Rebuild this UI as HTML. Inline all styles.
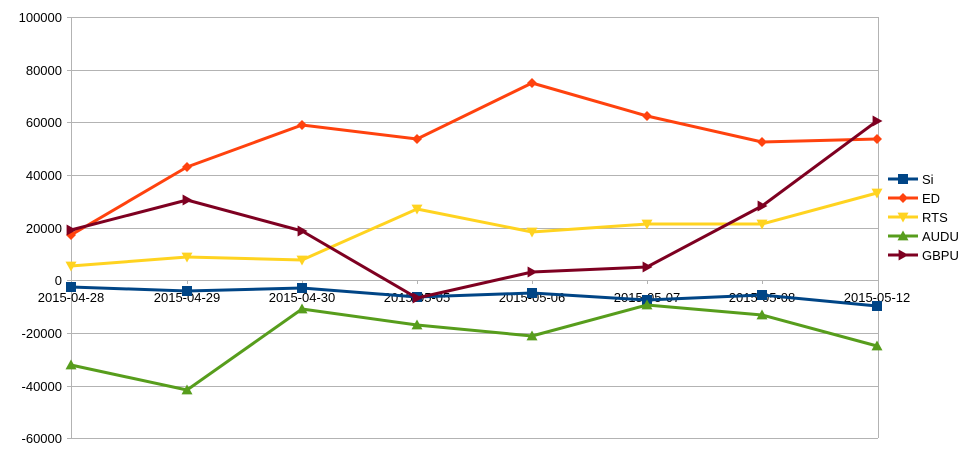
<!DOCTYPE html>
<html><head><style>body{margin:0;background:#fff}svg{display:block}text{font-family:"Liberation Sans",sans-serif;font-size:13px;fill:#000}</style></head><body>
<svg width="968" height="456" xmlns="http://www.w3.org/2000/svg">
<defs>
<marker id="sq" viewBox="0 0 10 10" refX="5" refY="5" markerWidth="10" markerHeight="10" markerUnits="userSpaceOnUse"><rect width="10" height="10" fill="#004586"/></marker>
<marker id="di" viewBox="0 0 10 10" refX="5" refY="5" markerWidth="10" markerHeight="10" markerUnits="userSpaceOnUse"><path d="M5 0L10 5L5 10L0 5Z" fill="#ff420e"/></marker>
<marker id="dn" viewBox="0 0 10 10" refX="5" refY="5" markerWidth="11" markerHeight="11" markerUnits="userSpaceOnUse"><path d="M0 1L10 1L5 10Z" fill="#ffd320"/></marker>
<marker id="up" viewBox="0 0 10 10" refX="5" refY="5" markerWidth="11" markerHeight="11" markerUnits="userSpaceOnUse"><path d="M0 9L10 9L5 0Z" fill="#579d1c"/></marker>
<marker id="rt" viewBox="0 0 10 10" refX="5" refY="5" markerWidth="11" markerHeight="11" markerUnits="userSpaceOnUse"><path d="M1 0L10 5L1 10Z" fill="#7e0021"/></marker>
</defs>
<g stroke="#b3b3b3" stroke-width="1">
<line x1="67" y1="17.5" x2="878" y2="17.5"/><line x1="67" y1="70.5" x2="878" y2="70.5"/><line x1="67" y1="122.5" x2="878" y2="122.5"/><line x1="67" y1="175.5" x2="878" y2="175.5"/><line x1="67" y1="228.5" x2="878" y2="228.5"/><line x1="67" y1="280.5" x2="878" y2="280.5"/><line x1="67" y1="333.5" x2="878" y2="333.5"/><line x1="67" y1="386.5" x2="878" y2="386.5"/><line x1="67" y1="438.5" x2="878" y2="438.5"/>
<line x1="71.5" y1="17" x2="71.5" y2="438"/><line x1="878.5" y1="17" x2="878.5" y2="438"/>
<path d="M187.5 280v4M302.5 280v4M417.5 280v4M532.5 280v4M647.5 280v4M762.5 280v4"/>
</g>
<g text-anchor="end">
<text x="62" y="22">100000</text><text x="62" y="75">80000</text><text x="62" y="127">60000</text><text x="62" y="180">40000</text><text x="62" y="233">20000</text><text x="62" y="285">0</text><text x="62" y="338">-20000</text><text x="62" y="391">-40000</text><text x="62" y="443">-60000</text>
</g>
<g text-anchor="middle">
<text x="71" y="302">2015-04-28</text><text x="187" y="302">2015-04-29</text><text x="302" y="302">2015-04-30</text><text x="417" y="302">2015-05-05</text><text x="532" y="302">2015-05-06</text><text x="647" y="302">2015-05-07</text><text x="762" y="302">2015-05-08</text><text x="877" y="302">2015-05-12</text>
</g>
<g fill="none" stroke-width="3" stroke-linejoin="round">
<polyline stroke="#004586" marker-start="url(#sq)" marker-mid="url(#sq)" marker-end="url(#sq)" points="71,287 187,291 302,288 417,297 532,293 647,300 762,295 877,306"/>
<polyline stroke="#ff420e" marker-start="url(#di)" marker-mid="url(#di)" marker-end="url(#di)" points="71,235 187,167 302,125 417,139 532,83 647,116 762,142 877,139"/>
<polyline stroke="#ffd320" marker-start="url(#dn)" marker-mid="url(#dn)" marker-end="url(#dn)" points="71,266 187,257 302,260 417,209 532,232 647,224 762,224 877,193"/>
<polyline stroke="#579d1c" marker-start="url(#up)" marker-mid="url(#up)" marker-end="url(#up)" points="71,365 187,390 302,309 417,325 532,336 647,305 762,315 877,346"/>
<polyline stroke="#7e0021" marker-start="url(#rt)" marker-mid="url(#rt)" marker-end="url(#rt)" points="71,230 187,200 302,231 417,298 532,272 647,267 762,206 877,121"/>
</g>
<g stroke-width="3" fill="none">
<polyline stroke="#004586" marker-mid="url(#sq)" points="888,179 903,179 918,179"/>
<polyline stroke="#ff420e" marker-mid="url(#di)" points="888,198 903,198 918,198"/>
<polyline stroke="#ffd320" marker-mid="url(#dn)" points="888,217 903,217 918,217"/>
<polyline stroke="#579d1c" marker-mid="url(#up)" points="888,236 903,236 918,236"/>
<polyline stroke="#7e0021" marker-mid="url(#rt)" points="888,255 903,255 918,255"/>
</g>
<text x="922" y="184">Si</text><text x="922" y="203">ED</text><text x="922" y="222">RTS</text><text x="922" y="241">AUDU</text><text x="922" y="260">GBPU</text>
</svg>
</body></html>
